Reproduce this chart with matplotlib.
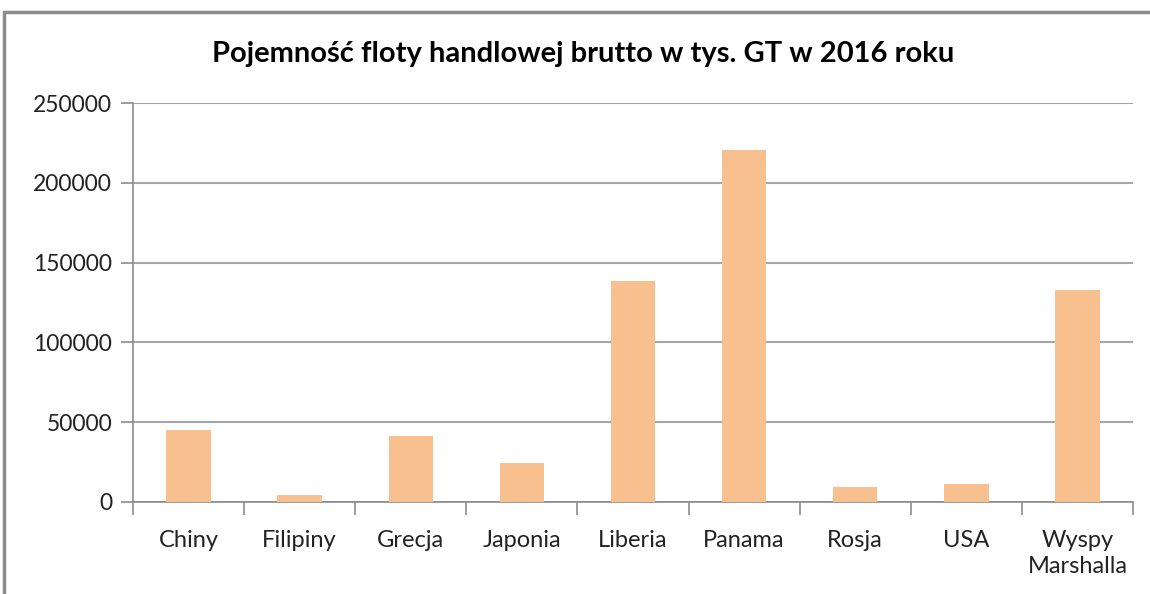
import numpy as np
import matplotlib.pyplot as plt
from matplotlib.patches import Rectangle

# dane
kraje = ['Chiny', 'Filipiny', 'Grecja', 'Japonia', 'Liberia', 'Panama', 'Rosja', 'USA', 'Wyspy\nMarshalla']
pojemnosc = [45300, 4400, 41400, 24600, 138300, 220400, 9200, 11500, 132600]
y_ticks = [0, 50000, 100000, 150000, 200000, 250000]

plt.rcParams['font.family'] = ['Lato', 'DejaVu Sans']

fig = plt.figure(figsize=(11.5, 5.94), dpi=100)
ax = fig.add_axes([133 / 1150, 1 - 502 / 594, 1000 / 1150, 399 / 594])

# ramka wykresu (przycięta)
fig.patches.append(Rectangle((4 / 1150, -0.1), 1.2, 1 - 12 / 594 + 0.1,
                             transform=fig.transFigure, fill=False,
                             edgecolor='#8c8c8c', linewidth=2.5))

x = np.arange(len(kraje))
ax.bar(x, pojemnosc, width=0.4, color='#F9C08F', zorder=3)

ax.set_xlim(-0.5, len(kraje) - 0.5)
ax.set_ylim(0, 250000)
ax.set_yticks(y_ticks)
ax.set_yticklabels([str(v) for v in y_ticks], fontsize=16.5, color='#222222')
ax.yaxis.grid(True, color='#a6a6a6', linewidth=1.5, zorder=0)

# etykiety kategorii i znaczniki na granicach
ax.set_xticks(x)
ax.set_xticklabels(kraje, fontsize=17, color='#222222', va='top', linespacing=1.3)
ax.tick_params(axis='x', length=0, pad=20)
ax.set_xticks(np.arange(len(kraje) + 1) - 0.5, minor=True)
ax.tick_params(axis='x', which='minor', length=9, width=1.2, color='#8c8c8c')
ax.tick_params(axis='y', length=9, width=1.2, color='#8c8c8c', pad=6)

for s in ['top', 'right']:
    ax.spines[s].set_visible(False)
for s in ['left', 'bottom']:
    ax.spines[s].set_color('#8c8c8c')
    ax.spines[s].set_linewidth(1.2)

fig.text(583 / 1150, 1 - 54 / 594, 'Pojemność floty handlowej brutto w tys. GT w 2016 roku',
         ha='center', va='center', fontsize=21, fontweight='bold', color='#000000')

plt.savefig('out.png', dpi=100)
